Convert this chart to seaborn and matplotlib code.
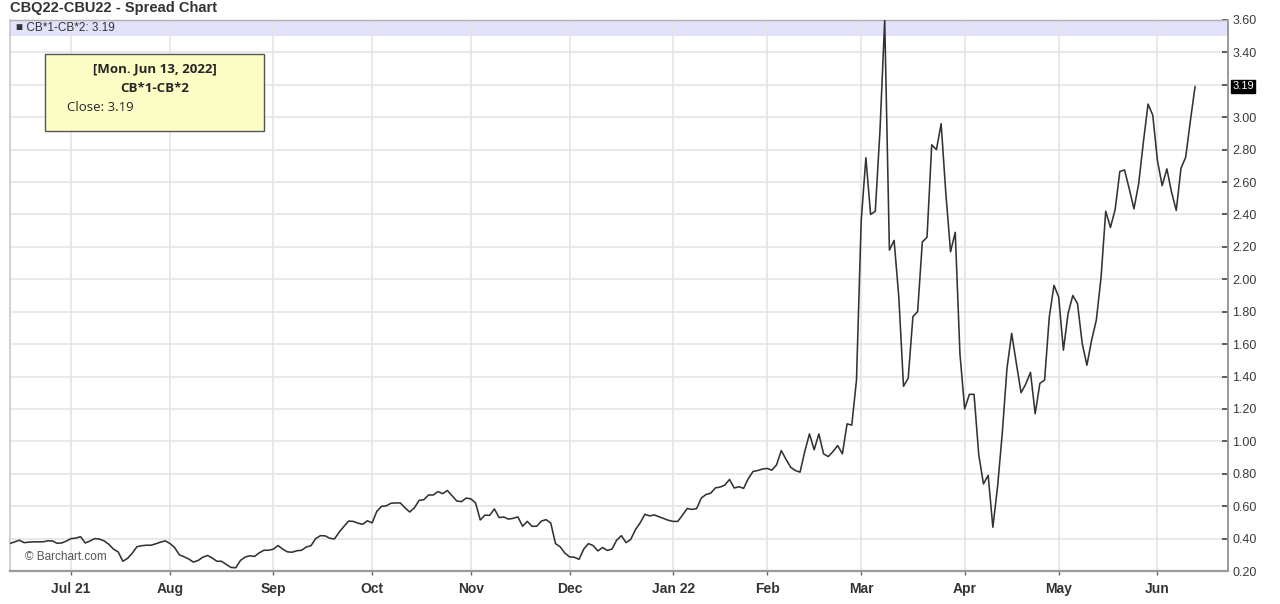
import numpy as np
import pandas as pd
import matplotlib
matplotlib.use("Agg")
import matplotlib.pyplot as plt
import seaborn as sns
from matplotlib.patches import Rectangle

# Cierres diarios del spread CB*1-CB*2, un array por mes
jun21 = [0.37, 0.38, 0.39, 0.375, 0.378, 0.38, 0.38, 0.38, 0.386, 0.386, 0.371, 0.373, 0.385]
jul21 = [0.40, 0.403, 0.412, 0.373, 0.385, 0.40, 0.397, 0.386, 0.365, 0.335, 0.318, 0.26,
         0.278, 0.31, 0.35, 0.356, 0.359, 0.359, 0.368, 0.378, 0.386]
aug21 = [0.37, 0.345, 0.30, 0.288, 0.274, 0.255, 0.265, 0.285, 0.296, 0.28, 0.26, 0.26,
         0.24, 0.222, 0.22, 0.265, 0.286, 0.294, 0.29, 0.312, 0.328, 0.328]
sep21 = [0.335, 0.357, 0.335, 0.318, 0.316, 0.325, 0.328, 0.348, 0.356, 0.40, 0.418, 0.417,
         0.402, 0.398, 0.44, 0.475, 0.508, 0.506, 0.495, 0.488, 0.51]
oct21 = [0.497, 0.568, 0.599, 0.602, 0.618, 0.62, 0.62, 0.59, 0.564, 0.59, 0.636, 0.64,
         0.669, 0.669, 0.69, 0.677, 0.697, 0.665, 0.632, 0.628, 0.65]
nov21 = [0.645, 0.62, 0.515, 0.545, 0.543, 0.583, 0.53, 0.533, 0.52, 0.525, 0.534, 0.476,
         0.506, 0.476, 0.476, 0.508, 0.517, 0.495, 0.369, 0.349, 0.31]
dec21 = [0.287, 0.285, 0.272, 0.335, 0.369, 0.357, 0.324, 0.345, 0.327, 0.335, 0.39, 0.418,
         0.375, 0.395, 0.455, 0.497, 0.55, 0.54, 0.546, 0.535, 0.524, 0.513]
jan22 = [0.506, 0.506, 0.545, 0.586, 0.58, 0.585, 0.65, 0.672, 0.68, 0.713, 0.718, 0.73,
         0.765, 0.712, 0.72, 0.71, 0.77, 0.814, 0.82, 0.829]
feb22 = [0.833, 0.822, 0.855, 0.943, 0.89, 0.84, 0.82, 0.81, 0.937, 1.046, 0.948, 1.046,
         0.923, 0.906, 0.937, 0.974, 0.923, 1.108, 1.10, 1.378]
mar22 = [2.36, 2.75, 2.40, 2.42, 2.92, 3.60, 2.18, 2.24, 1.89, 1.34, 1.39, 1.77, 1.80,
         2.23, 2.26, 2.83, 2.80, 2.96, 2.53, 2.17, 2.29, 1.54]
apr22 = [1.20, 1.29, 1.29, 0.917, 0.737, 0.79, 0.47, 0.72, 1.05, 1.45, 1.666, 1.48, 1.30,
         1.354, 1.426, 1.17, 1.358, 1.378, 1.768, 1.963]
may22 = [1.89, 1.563, 1.79, 1.90, 1.85, 1.604, 1.47, 1.625, 1.748, 2.01, 2.42, 2.32, 2.43,
         2.665, 2.675, 2.558, 2.435, 2.589, 2.845, 3.081, 3.013]
jun22 = [2.732, 2.578, 2.681, 2.537, 2.425, 2.685, 2.753, 2.978, 3.19]

meses = [jun21, jul21, aug21, sep21, oct21, nov21, dec21, jan22, feb22, mar22, apr22, may22, jun22]
etiquetas_meses = ["Jul 21", "Aug", "Sep", "Oct", "Nov", "Dec", "Jan 22", "Feb", "Mar", "Apr", "May", "Jun"]
niveles_y = [0.20, 0.40, 0.60, 0.80, 1.00, 1.20, 1.40, 1.60, 1.80, 2.00,
             2.20, 2.40, 2.60, 2.80, 3.00, 3.20, 3.40, 3.60]

valores = sum(meses, [])
inicio_mes = np.cumsum([len(m) for m in meses[:-1]])
ultimo = valores[-1]

df = pd.DataFrame({"dia": np.arange(len(valores)), "spread": valores})

sns.set_theme(style="white")
plt.rcParams["font.family"] = ["Liberation Sans", "DejaVu Sans"]

fig = plt.figure(figsize=(12.8, 6.04), dpi=100)
ax = fig.add_axes([10 / 1280, 33 / 604, 1218 / 1280, 551 / 604])

# banda de la leyenda arriba
ax.axhspan(3.50, 3.60, color="#e2e2fb", zorder=0, lw=0)

sns.lineplot(data=df, x="dia", y="spread", color="#333333", linewidth=1.15, ax=ax, zorder=3)

ax.set_xlim(0, len(valores) + 6)
ax.set_ylim(0.2, 3.6)
ax.set_xlabel("")
ax.set_ylabel("")

ax.yaxis.tick_right()
ax.set_yticks(niveles_y)
ax.set_yticklabels([f"{v:.2f}" for v in niveles_y], fontsize=9, color="#3a3a3a")
ax.set_xticks(inicio_mes)
ax.set_xticklabels(etiquetas_meses, fontsize=10, fontweight="bold", color="#333333")
ax.tick_params(axis="y", direction="in", length=4, width=1.2, color="#444444", pad=3, right=True)
ax.tick_params(axis="x", direction="out", length=3, width=1, color="#666666", pad=5, bottom=True)
ax.grid(True, color="#e5e5e5", linewidth=1.2, zorder=0)

for lado, col, lw in [("left", "#c8c8c8", 1.2), ("bottom", "#9a9a9a", 1.6),
                      ("right", "#9a9a9a", 1.4), ("top", "#b0b0b0", 1.0)]:
    ax.spines[lado].set_color(col)
    ax.spines[lado].set_linewidth(lw)

fig.text(10 / 1280, 1 - 8 / 604, "CBQ22-CBU22 - Spread Chart", fontsize=10.5,
         fontweight="bold", color="#333333", va="center", ha="left")

ax.text(6 / 1218, (571 - 28) / 551, "\u25a0 CB*1-CB*2: " + f"{ultimo:.2f}",
        transform=ax.transAxes, fontsize=8.5, color="#333333", va="center", ha="left",
        family=["Liberation Sans", "DejaVu Sans"])

# recuadro del tooltip
ax.add_patch(Rectangle((35 / 1218, (571 - 131) / 551), 219 / 1218, 77 / 551,
                       transform=ax.transAxes, facecolor="#fdfdc6", edgecolor="#555555",
                       linewidth=1, zorder=5))
ax.text(144.5 / 1218, (571 - 69) / 551, "[Mon. Jun 13, 2022]", transform=ax.transAxes,
        fontsize=9.5, fontweight="bold", family="Open Sans", ha="center", va="center", zorder=6)
ax.text(144.5 / 1218, (571 - 88) / 551, "CB*1-CB*2", transform=ax.transAxes,
        fontsize=9.5, fontweight="bold", family="Open Sans", ha="center", va="center", zorder=6)
ax.text(57 / 1218, (571 - 108) / 551, f"Close: {ultimo:.2f}", transform=ax.transAxes,
        fontsize=9.5, family="Open Sans", ha="left", va="center", zorder=6)

ax.text(15 / 1218, 14 / 551, "\u00a9 Barchart.com", transform=ax.transAxes,
        fontsize=8.5, color="#555555", ha="left", va="center", zorder=6)

# ultimo valor sobre el eje derecho
ax.text(1.0035, ultimo, f"{ultimo:.2f}", transform=ax.get_yaxis_transform(),
        fontsize=8, color="white", ha="left", va="center", zorder=7,
        bbox=dict(boxstyle="square,pad=0.12", facecolor="black", edgecolor="black"))

fig.savefig("out.png", dpi=100)
